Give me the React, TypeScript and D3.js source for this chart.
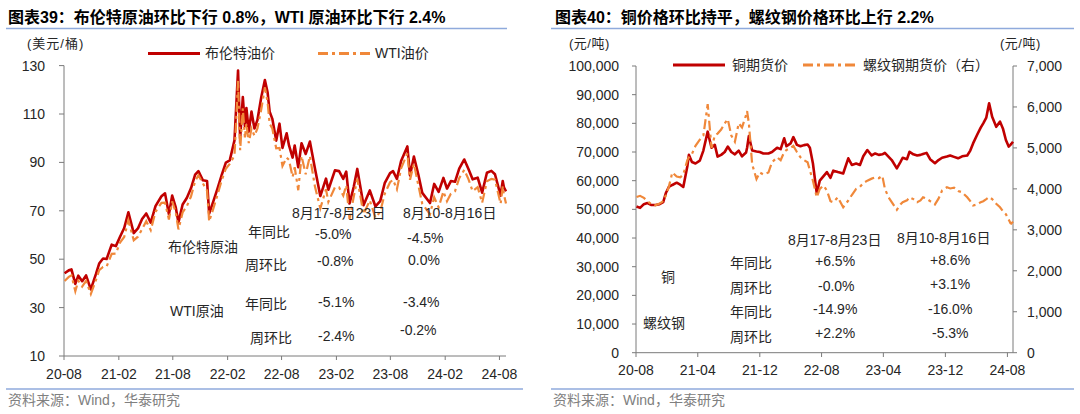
import React from 'react';
import * as d3 from 'd3';

// ---------- Oil data (USD/bbl) ----------
const oilDates = `2020-08-03 2020-08-17 2020-08-26 2020-09-08 2020-09-18 2020-10-01 2020-10-14 2020-10-30 2020-11-16 2020-11-27
2020-12-10 2020-12-22 2021-01-08 2021-01-22 2021-02-05 2021-02-19 2021-03-05 2021-03-23 2021-04-06 2021-04-20
2021-05-04 2021-05-19 2021-06-04 2021-06-24 2021-07-06 2021-07-19 2021-07-30 2021-08-11 2021-08-20 2021-09-03
2021-09-17 2021-10-01 2021-10-15 2021-10-26 2021-11-10 2021-11-24 2021-12-01 2021-12-15 2021-12-29 2022-01-12
2022-01-26 2022-02-08 2022-02-24 2022-03-08 2022-03-15 2022-03-24 2022-03-31 2022-04-05 2022-04-13 2022-04-22
2022-05-02 2022-05-12 2022-05-25 2022-06-06 2022-06-15 2022-06-22 2022-07-01 2022-07-14 2022-07-25 2022-08-04
2022-08-18 2022-08-26 2022-09-07 2022-09-14 2022-09-26 2022-10-07 2022-10-21 2022-11-04 2022-11-21 2022-12-09
2022-12-28 2023-01-05 2023-01-27 2023-02-10 2023-02-24 2023-03-06 2023-03-17 2023-03-31 2023-04-12 2023-05-03
2023-05-24 2023-06-12 2023-06-28 2023-07-13 2023-07-31 2023-08-10 2023-08-23 2023-09-06 2023-09-27 2023-10-06
2023-10-19 2023-11-03 2023-11-16 2023-12-12 2023-12-26 2024-01-10 2024-01-26 2024-02-07 2024-02-20 2024-03-05
2024-03-19 2024-04-05 2024-04-19 2024-05-03 2024-05-20 2024-06-04 2024-06-20 2024-07-05 2024-07-17 2024-08-05
2024-08-12 2024-08-16 2024-08-23`.trim().split(/\s+/);

const brent = [
  44.2, 45.4, 45.8, 39.8, 43.2, 40.9, 43.3, 37.5, 43.8, 48.2,
  50.3, 50.1, 56.0, 55.4, 59.3, 62.9, 69.4, 60.8, 62.7, 66.6,
  68.9, 65.1, 71.9, 76.0, 77.2, 68.6, 76.3, 71.4, 65.2, 72.6,
  75.3, 79.3, 84.9, 86.4, 82.6, 82.3, 68.9, 73.9, 79.2, 84.7,
  89.9, 90.8, 99.1, 128.0, 99.9, 117.0, 105.0, 112.5, 102.7, 111.0,
  104.0, 107.5, 117.0, 124.0, 119.0, 111.0, 108.0, 99.0, 106.0, 96.0,
  102.0, 97.0, 92.0, 97.0, 88.0, 97.9, 93.5, 98.6, 87.5, 76.1,
  83.3, 78.7, 86.7, 86.4, 83.2, 86.2, 73.0, 79.8, 87.3, 72.3,
  78.4, 71.8, 74.0, 81.4, 85.6, 86.4, 83.2, 90.6, 96.6, 84.6,
  92.4, 84.9, 77.4, 73.2, 81.1, 77.8, 83.6, 79.2, 82.3, 82.0,
  87.4, 91.2, 87.3, 83.0, 83.7, 77.5, 85.7, 86.5, 85.1, 76.3,
  82.3, 79.7, 78.0,
];

const wti = [
  41.0, 42.7, 43.3, 36.8, 41.1, 38.7, 41.0, 35.6, 41.3, 45.5,
  46.8, 47.0, 52.2, 52.3, 56.9, 59.2, 66.1, 57.8, 59.3, 62.4,
  65.7, 62.0, 69.6, 73.3, 73.4, 66.4, 73.9, 69.3, 62.3, 69.3,
  71.9, 75.9, 82.3, 84.7, 81.3, 78.4, 65.6, 70.9, 76.6, 82.6,
  87.4, 89.4, 92.8, 123.7, 95.0, 112.3, 100.3, 106.0, 98.0, 104.0,
  101.0, 104.0, 112.0, 121.0, 115.0, 106.0, 104.0, 95.8, 96.0, 88.5,
  92.0, 91.0, 84.0, 88.0, 78.5, 92.6, 85.1, 92.6, 80.0, 71.0,
  78.9, 73.7, 79.7, 79.7, 76.3, 80.5, 66.7, 75.7, 83.3, 68.6,
  74.3, 67.1, 69.6, 77.0, 81.8, 82.8, 78.9, 87.5, 93.7, 82.8,
  89.4, 80.5, 72.9, 68.6, 75.6, 71.4, 78.0, 73.9, 77.0, 78.1,
  83.5, 86.9, 83.1, 78.1, 79.8, 73.3, 82.2, 83.2, 82.9, 72.9,
  80.1, 76.7, 73.0,
];

const oilYTicks = [10, 30, 50, 70, 90, 110, 130];
const oilXTicks = ['2020-08', '2021-02', '2021-08', '2022-02', '2022-08', '2023-02', '2023-08', '2024-02', '2024-08'];

// ---------- Metals data (CNY/t) ----------
const metalDates = `2020-08-03 2020-08-17 2020-09-01 2020-09-15 2020-10-01 2020-10-16 2020-11-02 2020-11-16 2020-11-27 2020-12-08
2020-12-22 2021-01-08 2021-01-22 2021-02-03 2021-02-19 2021-02-25 2021-03-09 2021-03-23 2021-04-09 2021-04-23
2021-05-10 2021-05-25 2021-06-07 2021-06-18 2021-07-02 2021-07-16 2021-07-28 2021-08-11 2021-08-25 2021-09-09
2021-09-22 2021-10-08 2021-10-12 2021-10-19 2021-11-01 2021-11-18 2021-12-01 2021-12-15 2022-01-04 2022-01-18
2022-02-07 2022-02-21 2022-03-07 2022-03-16 2022-04-01 2022-04-12 2022-04-26 2022-05-10 2022-05-24 2022-06-07
2022-06-16 2022-06-28 2022-07-13 2022-07-25 2022-08-08 2022-08-22 2022-09-05 2022-09-16 2022-10-04 2022-10-25
2022-11-14 2022-11-28 2022-12-15 2022-12-30 2023-01-12 2023-01-28 2023-02-14 2023-02-28 2023-03-14 2023-03-28
2023-04-07 2023-04-21 2023-05-04 2023-05-24 2023-06-07 2023-06-16 2023-07-03 2023-07-13 2023-07-28 2023-08-12
2023-08-25 2023-09-04 2023-09-18 2023-10-02 2023-10-21 2023-11-04 2023-11-18 2023-12-07 2023-12-20 2024-01-04
2024-01-20 2024-02-05 2024-02-25 2024-03-08 2024-03-19 2024-04-04 2024-04-18 2024-04-28 2024-05-10 2024-05-21
2024-06-02 2024-06-18 2024-07-03 2024-07-15 2024-07-26 2024-08-06 2024-08-13 2024-08-16 2024-08-23`.trim().split(/\s+/);

const copper = [
  51000, 50500, 51800, 52200, 51500, 51500, 51800, 52500, 55800, 57800,
  58500, 59300, 58600, 57800, 65000, 69000, 66500, 66000, 67000, 70500,
  77100, 71500, 72500, 68400, 69000, 70000, 71900, 70000, 69200, 70500,
  68500, 69800, 71500, 75600, 70500, 70200, 70000, 69500, 69500, 70000,
  71500, 71000, 74800, 72000, 73000, 75200, 72500, 72000, 72400, 72600,
  71500, 66000, 55600, 60000, 61500, 63000, 61000, 63500, 63000, 62500,
  67800, 65500, 66000, 65500, 68500, 70700, 68800, 69500, 69000, 69200,
  69700, 68400, 67200, 64300, 66500, 68000, 67500, 70100, 69200, 68800,
  69000, 69300, 69700, 67500, 66100, 67200, 68000, 68400, 68800, 68300,
  67800, 68500, 68800, 70500, 73000, 76000, 78500, 80000, 82000, 87000,
  82300, 78800, 80600, 78000, 74200, 71900, 72500, 72800, 73600,
];

const rebar = [
  3800, 3830, 3780, 3700, 3620, 3600, 3640, 3700, 3850, 4050,
  4400, 4300, 4280, 4350, 4700, 4770, 4850, 5050, 5200, 5300,
  6070, 5000, 5300, 5350, 5450, 5600, 5700, 5300, 5150, 5600,
  5500, 5800, 5900, 5600, 4600, 4240, 4400, 4350, 4400, 4650,
  4770, 4700, 4900, 4950, 5000, 5050, 4900, 4770, 4700, 4650,
  4450, 4200, 3795, 4000, 4080, 3960, 3700, 3675, 3795, 3550,
  3716, 3850, 4000, 4050, 4140, 4200, 4250, 4280, 4260, 4320,
  4000, 3800, 3675, 3490, 3620, 3675, 3720, 3795, 3750, 3675,
  3720, 3795, 3760, 3700, 3620, 3760, 3960, 4040, 4010, 4030,
  3950, 3917, 3795, 3700, 3594, 3620, 3675, 3700, 3750, 3800,
  3750, 3635, 3550, 3450, 3380, 3250, 3160, 3150, 3200,
];

const copperTicks = [0, 10000, 20000, 30000, 40000, 50000, 60000, 70000, 80000, 90000, 100000];
const rebarTicks = [0, 1000, 2000, 3000, 4000, 5000, 6000, 7000];
const metalXTicks = ['2020-08', '2021-04', '2021-12', '2022-08', '2023-04', '2023-12', '2024-08'];

// ---------- Text ----------
const title39 = '图表39：布伦特原油环比下行 0.8%，WTI 原油环比下行 2.4%';
const title40 = '图表40：铜价格环比持平，螺纹钢价格环比上行 2.2%';
const sourceText = '资料来源：Wind，华泰研究';
const oilPeriods = ['8月17-8月23日', '8月10-8月16日'];
const oilNames = ['布伦特原油', 'WTI原油'];
const metricNames = ['年同比', '周环比'];
const brentCur = ['-5.0%', '-0.8%'];
const brentPrev = ['-4.5%', '0.0%'];
const wtiCur = ['-5.1%', '-2.4%'];
const wtiPrev = ['-3.4%', '-0.2%'];
const metalNames = ['铜', '螺纹钢'];
const copperCur = ['+6.5%', '-0.0%'];
const copperPrev = ['+8.6%', '+3.1%'];
const rebarCur = ['-14.9%', '+2.2%'];
const rebarPrev = ['-16.0%', '-5.3%'];

const RED = '#C00000';
const ORANGE = '#F0883A';
const AXIS = '#7a7a7a';
const TXT = '#262626';
const SEP = '#8FAADC';
const FONT = "'Liberation Sans', Arial, 'Noto Sans CJK SC', sans-serif";
const DASH = '10,4,3,4';

const parse = d3.timeParse('%Y-%m-%d');
const parseM = d3.timeParse('%Y-%m');
const fmtM = d3.timeFormat('%y-%m');

export default function App() {
  const oilD = oilDates.map((s) => parse(s) as Date);
  const metD = metalDates.map((s) => parse(s) as Date);
  const start = parse('2020-08-01') as Date;
  const end = parse('2024-08-23') as Date;

  const xOil = d3.scaleTime().domain([start, end]).range([64, 506]);
  const yOil = d3.scaleLinear().domain([10, 130]).range([356, 65.6]);
  const xMet = d3.scaleTime().domain([start, end]).range([636, 1013]);
  const yCu = d3.scaleLinear().domain([0, 100000]).range([352.7, 66]);
  const yRb = d3.scaleLinear().domain([0, 7000]).range([352.7, 66]);

  const lineOil = (vals: number[]) =>
    d3.line<number>().x((_, i) => xOil(oilD[i])).y((d) => yOil(d))(vals) || '';
  const lineMet = (vals: number[], y: d3.ScaleLinear<number, number>) =>
    d3.line<number>().x((_, i) => xMet(metD[i])).y((d) => y(d))(vals) || '';

  const fmtComma = d3.format(',');

  const T = (x: number, y: number, s: string, size = 14, extra: any = {}) => (
    <text x={x} y={y} fontSize={size} fill={TXT} fontFamily={FONT} {...extra}>{s}</text>
  );

  return (
    <div style={{ position: 'absolute', left: 0, top: 0 }}>
      <svg width={1080} height={414} style={{ display: 'block', background: '#fff' }}>
        {/* ===== Left chart ===== */}
        {T(8, 23, title39, 16, { fontWeight: 'bold', fill: '#000' })}
        <line x1={6} x2={507} y1={28.5} y2={28.5} stroke={SEP} strokeWidth={1.5} />
        {T(27, 48, '(美元/桶)', 13, { letterSpacing: 1 })}
        <line x1={148} x2={200} y1={53.5} y2={53.5} stroke={RED} strokeWidth={3} />
        {T(205, 58, '布伦特油价', 14)}
        <line x1={318} x2={370} y1={53.5} y2={53.5} stroke={ORANGE} strokeWidth={3} strokeDasharray={DASH} />
        {T(375, 58, 'WTI油价', 14)}

        {/* axes */}
        <line x1={64} x2={64} y1={yOil(130)} y2={356} stroke={AXIS} />
        <line x1={64} x2={506} y1={356} y2={356} stroke={AXIS} />
        {oilYTicks.map((v) => (
          <g key={v}>
            <line x1={59} x2={64} y1={yOil(v)} y2={yOil(v)} stroke={AXIS} />
            {T(45, yOil(v) + 5, String(v), 14, { textAnchor: 'end' })}
          </g>
        ))}
        {oilXTicks.map((m) => {
          const x = xOil(parseM(m) as Date);
          return (
            <g key={m}>
              <line x1={x} x2={x} y1={356} y2={360} stroke={AXIS} />
              {T(x, 379, fmtM(parseM(m) as Date), 14, { textAnchor: 'middle' })}
            </g>
          );
        })}

        {/* lines */}
        <path d={lineOil(brent)} fill="none" stroke={RED} strokeWidth={2.6} strokeLinejoin="round" />
        <path d={lineOil(wti)} fill="none" stroke={ORANGE} strokeWidth={2.2} strokeDasharray={DASH} />

        {/* table */}
        {T(292, 218, oilPeriods[0], 14)}
        {T(403, 218, oilPeriods[1], 14)}
        {T(168, 252, oilNames[0], 14)}
        {T(170, 316, oilNames[1], 14)}
        {T(248, 237, metricNames[0], 14)}
        {T(245, 270, metricNames[1], 14)}
        {T(245, 309, metricNames[0], 14)}
        {T(250, 343, metricNames[1], 14)}
        {T(315, 239, brentCur[0], 14)}
        {T(317, 265.5, brentCur[1], 14)}
        {T(407, 243, brentPrev[0], 14)}
        {T(408, 264.5, brentPrev[1], 14)}
        {T(318, 307, wtiCur[0], 14)}
        {T(318, 341, wtiCur[1], 14)}
        {T(403, 307, wtiPrev[0], 14)}
        {T(400, 334.5, wtiPrev[1], 14)}

        <line x1={6} x2={523} y1={389} y2={389} stroke={SEP} strokeWidth={1.5} />
        {T(8, 405, sourceText, 14, { fill: '#808080' })}

        {/* ===== Right chart ===== */}
        {T(555, 23, title40, 16, { fontWeight: 'bold', fill: '#000' })}
        <line x1={551} x2={1074} y1={28.5} y2={28.5} stroke={SEP} strokeWidth={1.5} />
        {T(569, 48, '(元/吨)', 13, { letterSpacing: 0.5 })}
        {T(1000, 48, '(元/吨)', 13, { letterSpacing: 0.5 })}
        <line x1={673} x2={725} y1={65} y2={65} stroke={RED} strokeWidth={3} />
        {T(732, 70, '铜期货价', 14)}
        <line x1={803} x2={855} y1={65} y2={65} stroke={ORANGE} strokeWidth={3} strokeDasharray={DASH} />
        {T(863, 70, '螺纹钢期货价（右）', 14)}

        <line x1={636} x2={636} y1={66} y2={352.7} stroke={AXIS} />
        <line x1={1013} x2={1013} y1={66} y2={352.7} stroke={AXIS} />
        <line x1={636} x2={1013} y1={352.7} y2={352.7} stroke={AXIS} />
        {copperTicks.map((v) => (
          <g key={v}>
            <line x1={632} x2={636} y1={yCu(v)} y2={yCu(v)} stroke={AXIS} />
            {T(619, yCu(v) + 5, fmtComma(v), 14, { textAnchor: 'end' })}
          </g>
        ))}
        {rebarTicks.map((v) => (
          <g key={v}>
            <line x1={1013} x2={1017} y1={yRb(v)} y2={yRb(v)} stroke={AXIS} />
            {T(1027, yRb(v) + 5, fmtComma(v), 14)}
          </g>
        ))}
        {metalXTicks.map((m) => {
          const x = xMet(parseM(m) as Date);
          return (
            <g key={m}>
              <line x1={x} x2={x} y1={352.7} y2={357} stroke={AXIS} />
              {T(x, 375, fmtM(parseM(m) as Date), 14, { textAnchor: 'middle' })}
            </g>
          );
        })}

        <path d={lineMet(copper, yCu)} fill="none" stroke={RED} strokeWidth={2.6} strokeLinejoin="round" />
        <path d={lineMet(rebar, yRb)} fill="none" stroke={ORANGE} strokeWidth={2.2} strokeDasharray={DASH} />

        {T(788, 245, oilPeriods[0], 14)}
        {T(897, 243, oilPeriods[1], 14)}
        {T(661, 282, metalNames[0], 14)}
        {T(643, 328, metalNames[1], 14)}
        {T(730, 268, metricNames[0], 14)}
        {T(730, 293, metricNames[1], 14)}
        {T(730, 317, metricNames[0], 14)}
        {T(730, 342, metricNames[1], 14)}
        {T(815, 266, copperCur[0], 14)}
        {T(818, 290.5, copperCur[1], 14)}
        {T(813, 314, rebarCur[0], 14)}
        {T(815, 338, rebarCur[1], 14)}
        {T(930, 265, copperPrev[0], 14)}
        {T(930, 289, copperPrev[1], 14)}
        {T(928, 314, rebarPrev[0], 14)}
        {T(932, 338, rebarPrev[1], 14)}

        <line x1={551} x2={1074} y1={389} y2={389} stroke={SEP} strokeWidth={1.5} />
        {T(553, 405, sourceText, 14, { fill: '#808080' })}
      </svg>
    </div>
  );
}
